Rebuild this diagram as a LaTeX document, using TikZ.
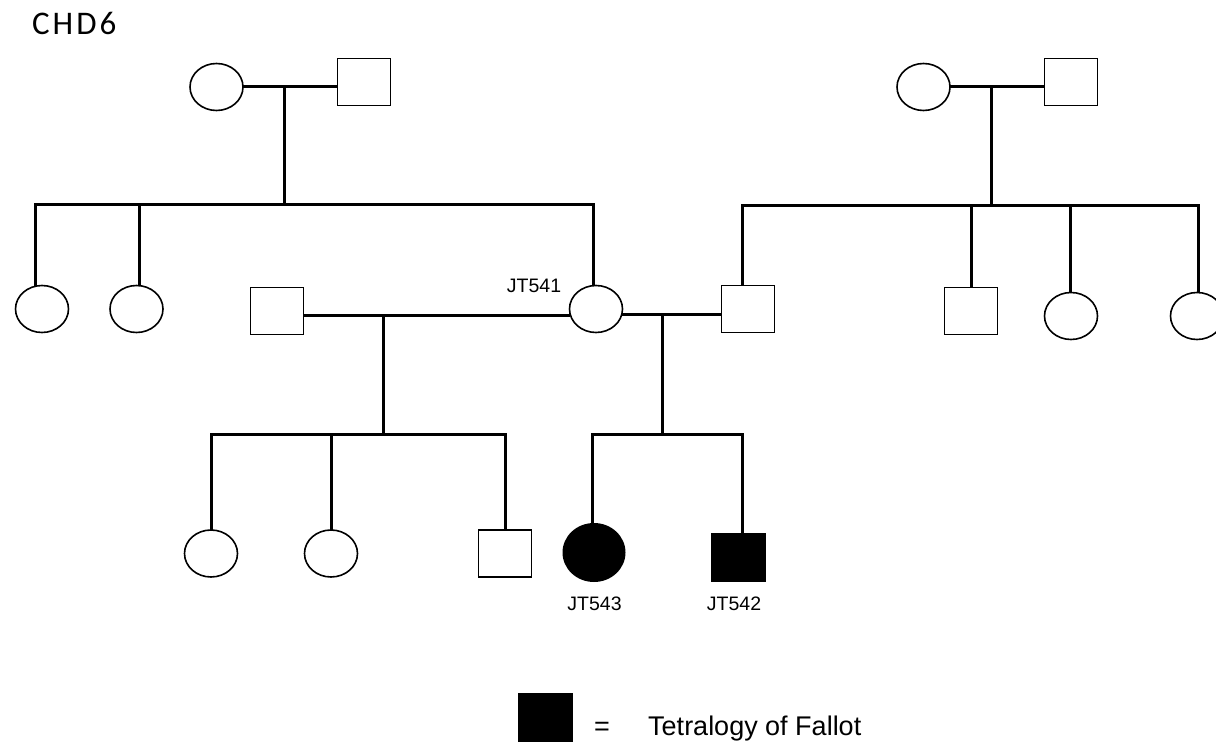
\documentclass[tikz,border=0pt]{standalone}
\usepackage{fontspec}
\setmainfont{Liberation Sans}
\newfontfamily\titlefont[LetterSpace=9]{Carlito}
\usetikzlibrary{shapes.geometric}
\pgfdeclarelayer{back}
\pgfdeclarelayer{bg}
\pgfsetlayers{back,bg,main}
\tikzset{
  female/.style={ellipse, draw, fill=white, line width=1.6pt, minimum width=53pt, minimum height=47pt, inner sep=0pt},
  male/.style={rectangle, draw, fill=white, line width=1.6pt, minimum width=53pt, minimum height=47pt, inner sep=0pt},
  affected/.style={fill=black},
  link/.style={line width=3pt, line cap=rect},
  idlabel/.style={font=\fontsize{19.5}{23}\selectfont, inner sep=0pt, anchor=base},
}
\begin{document}
\begin{tikzpicture}[x=1pt, y=-1pt]
\clip (0,0) rectangle (1216,746);
\begin{pgfonlayer}{back}
  \fill[white] (0,0) rectangle (1216,746);
\end{pgfonlayer}

% title
\node[font=\titlefont\fontsize{33}{38}\selectfont, inner sep=0pt, anchor=base west] (title) at (32,35) {CHD6};

% generation I
\node[female] (gm1) at (216.5,87) {};
\node[male]   (gf1) at (364,82) {};
\node[female] (gm2) at (923.5,87) {};
\node[male]   (gf2) at (1071,82) {};

% generation II
\node[female] (a1) at (42,309) {};
\node[female] (a2) at (136.5,309) {};
\node[male]   (h1) at (277,311) {};
\node[female] (jt541) at (596,309) {};
\node[male]   (h2) at (748,309) {};
\node[male]   (b1) at (971,311) {};
\node[female] (b2) at (1071,316) {};
\node[female] (b3) at (1197,316) {};

% generation III
\node[female] (c1) at (211,553.5) {};
\node[female] (c2) at (331,553.5) {};
\node[male]   (c3) at (505,553.5) {};
\node[female, affected, draw=none, minimum width=63pt, minimum height=59pt] (jt543) at (594,552.5) {};
\node[male, affected, minimum width=54pt, minimum height=48pt] (jt542) at (738.5,557.5) {};

% labels
\node[idlabel] (l541) at (534,293) {JT541};
\node[idlabel] (l543) at (594.5,610) {JT543};
\node[idlabel] (l542) at (734,610) {JT542};

% legend
\node[male, affected, minimum width=54pt, minimum height=48pt] (key) at (545.5,717.5) {};
\node[font=\fontsize{27}{32}\selectfont, inner sep=0pt, anchor=base] (eq) at (602,735) {=};
\node[font=\fontsize{27}{32}\selectfont, inner sep=0pt, anchor=base west] (keytext) at (648,735) {Tetralogy of Fallot};

% junction points
\coordinate (m1) at (284,87);
\coordinate (d1) at (284,205);
\coordinate (s1L) at (35,205);
\coordinate (s1a) at (139,205);
\coordinate (s1R) at (593,205);
\coordinate (m2) at (991,87);
\coordinate (d2) at (991,206);
\coordinate (s2L) at (742,206);
\coordinate (s2a) at (971,206);
\coordinate (s2b) at (1070,206);
\coordinate (s2R) at (1198,206);
\coordinate (m3) at (383,315);
\coordinate (d3) at (383,434);
\coordinate (s3L) at (211,434);
\coordinate (s3a) at (331,434);
\coordinate (s3R) at (505,434);
\coordinate (m4) at (662,314);
\coordinate (d4) at (662,434);
\coordinate (s4L) at (592,434);
\coordinate (s4R) at (742,434);

\begin{pgfonlayer}{bg}
  % left founders and their children
  \draw[link] (gm1.east |- m1) -- (gf1.west |- m1);
  \draw[link] (m1) -- (d1);
  \draw[link] (s1L) -- (s1R);
  \draw[link] (s1L) -- (s1L |- a1.north);
  \draw[link] (s1a) -- (s1a |- a2.north);
  \draw[link] (s1R) -- (s1R |- jt541.north);
  % right founders and their children
  \draw[link] (gm2.east |- m2) -- (gf2.west |- m2);
  \draw[link] (m2) -- (d2);
  \draw[link] (s2L) -- (s2R);
  \draw[link] (s2L) -- (s2L |- h2.north);
  \draw[link] (s2a) -- (s2a |- b1.north);
  \draw[link] (s2b) -- (s2b |- b2.north);
  \draw[link] (s2R) -- (s2R |- b3.north);
  % first partnership of JT541
  \draw[link] (h1.east |- m3) -- (jt541.west |- m3);
  \draw[link] (m3) -- (d3);
  \draw[link] (s3L) -- (s3R);
  \draw[link] (s3L) -- (s3L |- c1.north);
  \draw[link] (s3a) -- (s3a |- c2.north);
  \draw[link] (s3R) -- (s3R |- c3.north);
  % second partnership of JT541
  \draw[link] (jt541.east |- m4) -- (h2.west |- m4);
  \draw[link] (m4) -- (d4);
  \draw[link] (s4L) -- (s4R);
  \draw[link] (s4L) -- (s4L |- jt543.north);
  \draw[link] (s4R) -- (s4R |- jt542.north);
\end{pgfonlayer}
\end{tikzpicture}
\end{document}
